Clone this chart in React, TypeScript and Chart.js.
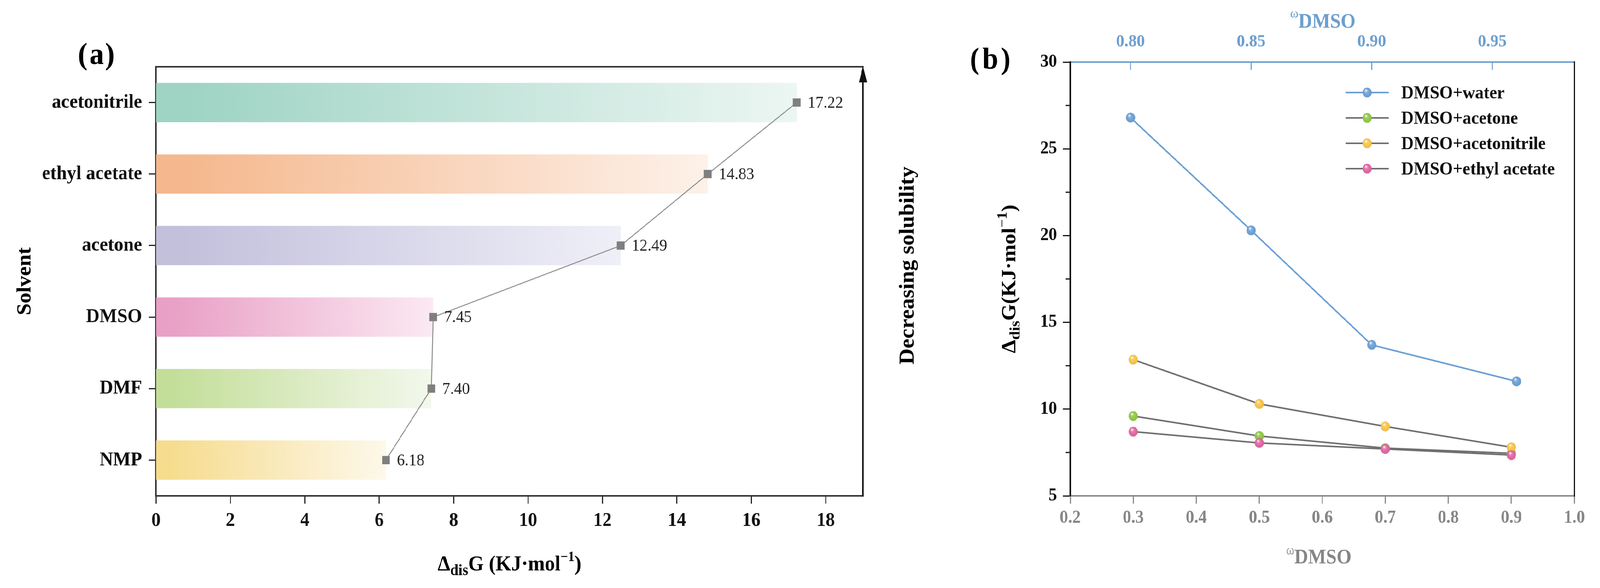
import React, { useEffect, useRef } from "react";
import { Chart, registerables } from "chart.js";

Chart.register(...registerables);

const FONT = '"Liberation Serif", "Times New Roman", Times, serif';
const PAGE_W = 4370;
const PAGE_H = 1506;

// ---------------- Panel (a) data ----------------
const solvents = ["acetonitrile", "ethyl acetate", "acetone", "DMSO", "DMF", "NMP"];
const disG = [17.22, 14.83, 12.49, 7.45, 7.4, 6.18];
const barStart = ["#9fd4c4", "#f5b88e", "#c3c0dc", "#e9a0c6", "#c3de99", "#f6dc8e"];
const barEnd = ["#ecf6f3", "#fdf1e9", "#efeff8", "#fbe9f2", "#f3f8ec", "#fdf8ea"];
const ticksA = [0, 2, 4, 6, 8, 10, 12, 14, 16, 18];

// ---------------- Panel (b) data ----------------
const seriesNames = ["DMSO+water", "DMSO+acetone", "DMSO+acetonitrile", "DMSO+ethyl acetate"];
const omegaWater = [0.8, 0.85, 0.9, 0.96];
const omegaOrganic = [0.3, 0.5, 0.7, 0.9];
const gWater = [26.8, 20.3, 13.7, 11.6];
const gAcetone = [9.6, 8.45, 7.75, 7.45];
const gAcetonitrile = [12.85, 10.3, 9.0, 7.8];
const gEthylAcetate = [8.7, 8.05, 7.7, 7.35];
const markerColors = ["#6a9fd3", "#8cc640", "#f6c346", "#e0629f"];
const lineColors = ["#6a9fd3", "#6f6f6f", "#6f6f6f", "#6f6f6f"];
const omegaTicksBottom = [0.2, 0.3, 0.4, 0.5, 0.6, 0.7, 0.8, 0.9, 1.0];
const omegaTicksTop = [0.8, 0.85, 0.9, 0.95];
const gTicks = [5, 10, 15, 20, 25, 30];
const gMinorTicks = [7.5, 12.5, 17.5, 22.5, 27.5];

const TOP_BLUE = "#6d9fcf";
const BOTTOM_GRAY = "#868686";

type Seg = { t: string; size: number; weight?: string; dy?: number };

function drawRich(
  ctx: CanvasRenderingContext2D,
  segs: Seg[],
  center: number,
  baseline: number,
  color: string,
  rotate = false
) {
  ctx.save();
  ctx.fillStyle = color;
  ctx.textAlign = "left";
  ctx.textBaseline = "alphabetic";
  const fonts = segs.map((s) => `${s.weight ?? "bold"} ${s.size}px ${FONT}`);
  const widths = segs.map((s, i) => {
    ctx.font = fonts[i];
    return ctx.measureText(s.t).width;
  });
  const total = widths.reduce((a, b) => a + b, 0);
  if (rotate) {
    ctx.translate(baseline, center);
    ctx.rotate(-Math.PI / 2);
  } else {
    ctx.translate(center, baseline);
  }
  let x = -total / 2;
  segs.forEach((s, i) => {
    ctx.font = fonts[i];
    ctx.fillText(s.t, x, s.dy ?? 0);
    x += widths[i];
  });
  ctx.restore();
}

function drawPanelTag(ctx: CanvasRenderingContext2D, letter: string, centers: number[], baseline: number) {
  ctx.save();
  ctx.fillStyle = "#000";
  ctx.textAlign = "center";
  ctx.textBaseline = "alphabetic";
  ctx.font = `bold 78px ${FONT}`;
  ["(", letter, ")"].forEach((ch, i) => ctx.fillText(ch, centers[i], baseline));
  ctx.restore();
}

function makeBall(color: string, d: number): HTMLCanvasElement {
  const c = document.createElement("canvas");
  c.width = d;
  c.height = d;
  const g = c.getContext("2d")!;
  const r = d / 2;
  g.beginPath();
  g.arc(r, r, r - 0.5, 0, Math.PI * 2);
  g.fillStyle = color;
  g.fill();
  const sh = g.createRadialGradient(r * 0.8, r * 0.7, r * 0.1, r, r, r);
  sh.addColorStop(0, "rgba(255,255,255,0.25)");
  sh.addColorStop(0.7, "rgba(255,255,255,0)");
  sh.addColorStop(1, "rgba(0,0,0,0.12)");
  g.fillStyle = sh;
  g.beginPath();
  g.arc(r, r, r - 0.5, 0, Math.PI * 2);
  g.fill();
  const hx = r * 0.78;
  const hy = r * 0.62;
  const hl = g.createRadialGradient(hx, hy, 0, hx, hy, r * 0.38);
  hl.addColorStop(0, "rgba(255,255,255,0.95)");
  hl.addColorStop(1, "rgba(255,255,255,0)");
  g.fillStyle = hl;
  g.beginPath();
  g.arc(hx, hy, r * 0.38, 0, Math.PI * 2);
  g.fill();
  return c;
}

const setTicks = (values: number[]) => (scale: any) => {
  scale.ticks = values.map((v) => ({ value: v }));
};

// ---------------- plugins ----------------
const pluginA = {
  id: "panelA",
  afterDatasetsDraw(chart: any) {
    const ctx: CanvasRenderingContext2D = chart.ctx;
    const meta = chart.getDatasetMeta(1);
    const vals = chart.data.datasets[1].data as number[];
    ctx.save();
    ctx.font = `43px ${FONT}`;
    ctx.fillStyle = "#222";
    ctx.textAlign = "left";
    ctx.textBaseline = "middle";
    meta.data.forEach((pt: any, i: number) => {
      ctx.fillText(Number(vals[i]).toFixed(2), pt.x + 30, pt.y + 2);
    });
    ctx.restore();
  },
  afterDraw(chart: any) {
    const ctx: CanvasRenderingContext2D = chart.ctx;
    const a = chart.chartArea;
    ctx.save();
    ctx.strokeStyle = "#333";
    ctx.lineWidth = 4;
    ctx.beginPath();
    ctx.moveTo(a.left - 2, a.top);
    ctx.lineTo(a.right + 2, a.top);
    ctx.stroke();
    ctx.strokeStyle = "#111";
    ctx.beginPath();
    ctx.moveTo(a.right, a.bottom + 2);
    ctx.lineTo(a.right, a.top + 30);
    ctx.stroke();
    ctx.fillStyle = "#111";
    ctx.beginPath();
    ctx.moveTo(a.right, a.top - 2);
    ctx.lineTo(a.right - 11, a.top + 40);
    ctx.lineTo(a.right + 11, a.top + 40);
    ctx.closePath();
    ctx.fill();
    ctx.restore();

    drawPanelTag(ctx, "a", [226, 264, 300], 164);
    drawRich(ctx, [{ t: "Solvent", size: 55 }], (a.top + a.bottom) / 2, 83, "#000", true);
    drawRich(ctx, [{ t: "Decreasing solubility", size: 57 }], 680, 2495, "#000", true);
    drawRich(
      ctx,
      [
        { t: "Δ", size: 55 },
        { t: "dis", size: 40, dy: 12 },
        { t: "G (KJ·mol", size: 55 },
        { t: "−1", size: 36, dy: -24 },
        { t: ")", size: 55 },
      ],
      (a.left + a.right) / 2,
      1461,
      "#000"
    );
  },
};

function drawOmegaTitle(ctx: CanvasRenderingContext2D, center: number, baseMain: number, baseOmega: number, color: string) {
  ctx.save();
  ctx.fillStyle = color;
  ctx.textAlign = "left";
  ctx.textBaseline = "alphabetic";
  const fOm = `normal 34px ${FONT}`;
  const fMain = `bold 52px ${FONT}`;
  ctx.font = fOm;
  const wOm = ctx.measureText("ω").width;
  ctx.font = fMain;
  const wMain = ctx.measureText("DMSO").width;
  const x0 = center - (wOm + wMain) / 2;
  ctx.font = fOm;
  ctx.fillText("ω", x0, baseOmega);
  ctx.font = fMain;
  ctx.fillText("DMSO", x0 + wOm, baseMain);
  ctx.restore();
}

function makePluginB(balls: HTMLCanvasElement[]) {
  return {
    id: "panelB",
    afterDraw(chart: any) {
      const ctx: CanvasRenderingContext2D = chart.ctx;
      const a = chart.chartArea;
      const y = chart.scales.y;
      const x2 = chart.scales.x2;
      ctx.save();
      ctx.strokeStyle = "#111";
      ctx.lineWidth = 3;
      gMinorTicks.forEach((v) => {
        const py = y.getPixelForValue(v);
        ctx.beginPath();
        ctx.moveTo(a.left - 12, py);
        ctx.lineTo(a.left, py);
        ctx.stroke();
      });
      ctx.strokeStyle = TOP_BLUE;
      x2.ticks.forEach((t: any) => {
        const px = x2.getPixelForValue(t.value);
        ctx.beginPath();
        ctx.moveTo(px, a.top);
        ctx.lineTo(px, a.top + 20);
        ctx.stroke();
      });
      ctx.strokeStyle = "#111";
      ctx.lineWidth = 4;
      ctx.beginPath();
      ctx.moveTo(a.right, a.top - 2);
      ctx.lineTo(a.right, a.bottom + 2);
      ctx.stroke();
      chart.data.datasets.forEach((ds: any, i: number) => {
        const ry = 237 + i * 65;
        ctx.strokeStyle = lineColors[i];
        ctx.lineWidth = 4;
        ctx.beginPath();
        ctx.moveTo(1075, ry);
        ctx.lineTo(1193, ry);
        ctx.stroke();
        const img = balls[i];
        ctx.drawImage(img, 1134 - img.width / 2, ry - img.height / 2);
        ctx.fillStyle = "#111";
        ctx.font = `bold 47px ${FONT}`;
        ctx.textBaseline = "middle";
        ctx.textAlign = "left";
        ctx.fillText(ds.label, 1227, ry + 3);
      });
      ctx.restore();

      drawPanelTag(ctx, "b", [62, 105, 147], 176);
      drawRich(
        ctx,
        [
          { t: "Δ", size: 55 },
          { t: "dis", size: 40, dy: 12 },
          { t: "G(KJ·mol", size: 55 },
          { t: "−1", size: 38, dy: -24 },
          { t: ")", size: 55 },
        ],
        (a.top + a.bottom) / 2,
        173,
        "#000",
        true
      );
      drawOmegaTitle(ctx, 1002, 1443, 1420, BOTTOM_GRAY);
      drawOmegaTitle(ctx, 1013, 71, 45, TOP_BLUE);
    },
  };
}

export default function App() {
  const refA = useRef<HTMLCanvasElement>(null);
  const refB = useRef<HTMLCanvasElement>(null);

  const vw = typeof window !== "undefined" ? window.innerWidth : PAGE_W;
  const vh = typeof window !== "undefined" ? window.innerHeight : PAGE_H;
  const sx = vw > 0 ? Math.min(1, vw / PAGE_W) : 1;
  const sy = vh > 0 ? Math.min(1, vh / PAGE_H) : 1;

  useEffect(() => {
    document.body.style.margin = "0";
    document.documentElement.style.overflow = "hidden";
    document.body.style.overflow = "hidden";
    const balls = markerColors.map((c) => makeBall(c, 26));

    const chartA = new Chart(refA.current!, {
      type: "bar",
      data: {
        labels: solvents,
        datasets: [
          {
            type: "bar",
            data: disG,
            backgroundColor: (c: any) => {
              const i = c.dataIndex ?? 0;
              if (c.type !== "data") return barStart[0];
              const chart = c.chart;
              const xs = chart.scales.x;
              if (!xs || !chart.chartArea) return barStart[i];
              const x0 = xs.getPixelForValue(0);
              const x1 = xs.getPixelForValue(c.raw);
              const g = chart.ctx.createLinearGradient(x0, 0, x1, 0);
              g.addColorStop(0, barStart[i]);
              g.addColorStop(0.06, barStart[i]);
              g.addColorStop(1, barEnd[i]);
              return g;
            },
            borderWidth: 0,
            barPercentage: 0.55,
            categoryPercentage: 1,
            order: 2,
          } as any,
          {
            type: "line",
            data: disG,
            borderColor: "#8c8c8c",
            borderWidth: 2.5,
            pointStyle: "rect",
            pointRadius: 15,
            pointHoverRadius: 15,
            pointBackgroundColor: "#7f7f7f",
            pointBorderWidth: 0,
            tension: 0,
            order: 1,
          } as any,
        ],
      },
      options: {
        indexAxis: "y",
        responsive: false,
        maintainAspectRatio: false,
        animation: false,
        devicePixelRatio: 1,
        layout: { padding: { top: 171, right: 243, bottom: 0, left: 0 } },
        plugins: { legend: { display: false }, tooltip: { enabled: false } },
        scales: {
          x: {
            type: "linear",
            position: "bottom",
            min: 0,
            max: 19,
            afterFit: (s: any) => {
              s.height = 236;
            },
            afterBuildTicks: setTicks(ticksA),
            ticks: {
              color: "#111",
              font: { family: FONT, size: 50, weight: "bold" },
              padding: 14,
              maxRotation: 0,
              autoSkip: false,
            },
            grid: { drawOnChartArea: false, drawTicks: true, tickLength: 20, tickWidth: 3, tickColor: "#222" },
            border: { display: true, color: "#333", width: 4 },
          },
          y: {
            type: "category",
            position: "left",
            afterFit: (s: any) => {
              s.width = 426;
            },
            ticks: { color: "#111", font: { family: FONT, size: 51, weight: "bold" }, padding: 18 },
            grid: { offset: false, drawOnChartArea: false, tickLength: 20, tickWidth: 3, tickColor: "#222" },
            border: { display: true, color: "#333", width: 4 },
          },
        },
      } as any,
      plugins: [pluginA],
    });

    const organic = [gAcetone, gAcetonitrile, gEthylAcetate];
    const datasets: any[] = [
      {
        label: seriesNames[0],
        data: omegaWater.map((x, i) => ({ x, y: gWater[i] })),
        xAxisID: "x2",
        yAxisID: "y",
        borderColor: lineColors[0],
        borderWidth: 4,
        pointStyle: balls[0],
        tension: 0,
        order: 4,
      },
      ...organic.map((vals, k) => ({
        label: seriesNames[k + 1],
        data: omegaOrganic.map((x, i) => ({ x, y: vals[i] })),
        xAxisID: "x",
        yAxisID: "y",
        borderColor: lineColors[k + 1],
        borderWidth: 4,
        pointStyle: balls[k + 1],
        tension: 0,
        order: 3 - k,
      })),
    ];

    const chartB = new Chart(refB.current!, {
      type: "line",
      data: { datasets },
      options: {
        responsive: false,
        maintainAspectRatio: false,
        animation: false,
        devicePixelRatio: 1,
        layout: { padding: { top: 0, right: 70, bottom: 0, left: 0 } },
        plugins: { legend: { display: false }, tooltip: { enabled: false } },
        scales: {
          x: {
            type: "linear",
            position: "bottom",
            min: 0.2,
            max: 1.0,
            afterFit: (s: any) => {
              s.height = 236;
            },
            afterBuildTicks: setTicks(omegaTicksBottom),
            ticks: {
              color: BOTTOM_GRAY,
              font: { family: FONT, size: 46, weight: "bold" },
              padding: 10,
              maxRotation: 0,
              autoSkip: false,
              callback: (v: any) => Number(v).toFixed(1),
            },
            grid: { drawOnChartArea: false, tickLength: 20, tickWidth: 3, tickColor: "#8a8a8a" },
            border: { display: true, color: "#8a8a8a", width: 4 },
          },
          x2: {
            type: "linear",
            position: "top",
            min: 0.775,
            max: 0.984,
            afterFit: (s: any) => {
              s.height = 159;
            },
            afterBuildTicks: setTicks(omegaTicksTop),
            ticks: {
              color: TOP_BLUE,
              font: { family: FONT, size: 45, weight: "bold" },
              padding: 25,
              maxRotation: 0,
              autoSkip: false,
              callback: (v: any) => Number(v).toFixed(2),
            },
            grid: { drawOnChartArea: false, drawTicks: false },
            border: { display: true, color: TOP_BLUE, width: 4 },
          },
          y: {
            type: "linear",
            position: "left",
            min: 5,
            max: 30,
            afterFit: (s: any) => {
              s.width = 323;
            },
            afterBuildTicks: setTicks(gTicks),
            ticks: {
              color: "#111",
              font: { family: FONT, size: 46, weight: "bold" },
              padding: 16,
              autoSkip: false,
            },
            grid: { drawOnChartArea: false, tickLength: 20, tickWidth: 3, tickColor: "#111" },
            border: { display: true, color: "#111", width: 4 },
          },
        },
      } as any,
      plugins: [makePluginB(balls)],
    });

    return () => {
      chartA.destroy();
      chartB.destroy();
    };
  }, []);

  return (
    <div style={{ position: "fixed", left: 0, top: 0, width: "100vw", height: "100vh", overflow: "hidden", background: "#fff" }}>
      <div
        style={{
          position: "absolute",
          left: 0,
          top: 0,
          width: PAGE_W,
          height: PAGE_H,
          transform: `scale(${sx}, ${sy})`,
          transformOrigin: "0 0",
          background: "#fff",
        }}
      >
        <canvas ref={refA} width={2600} height={1506} style={{ position: "absolute", left: 0, top: 0 }} />
        <canvas ref={refB} width={1770} height={1506} style={{ position: "absolute", left: 2600, top: 0 }} />
      </div>
    </div>
  );
}
